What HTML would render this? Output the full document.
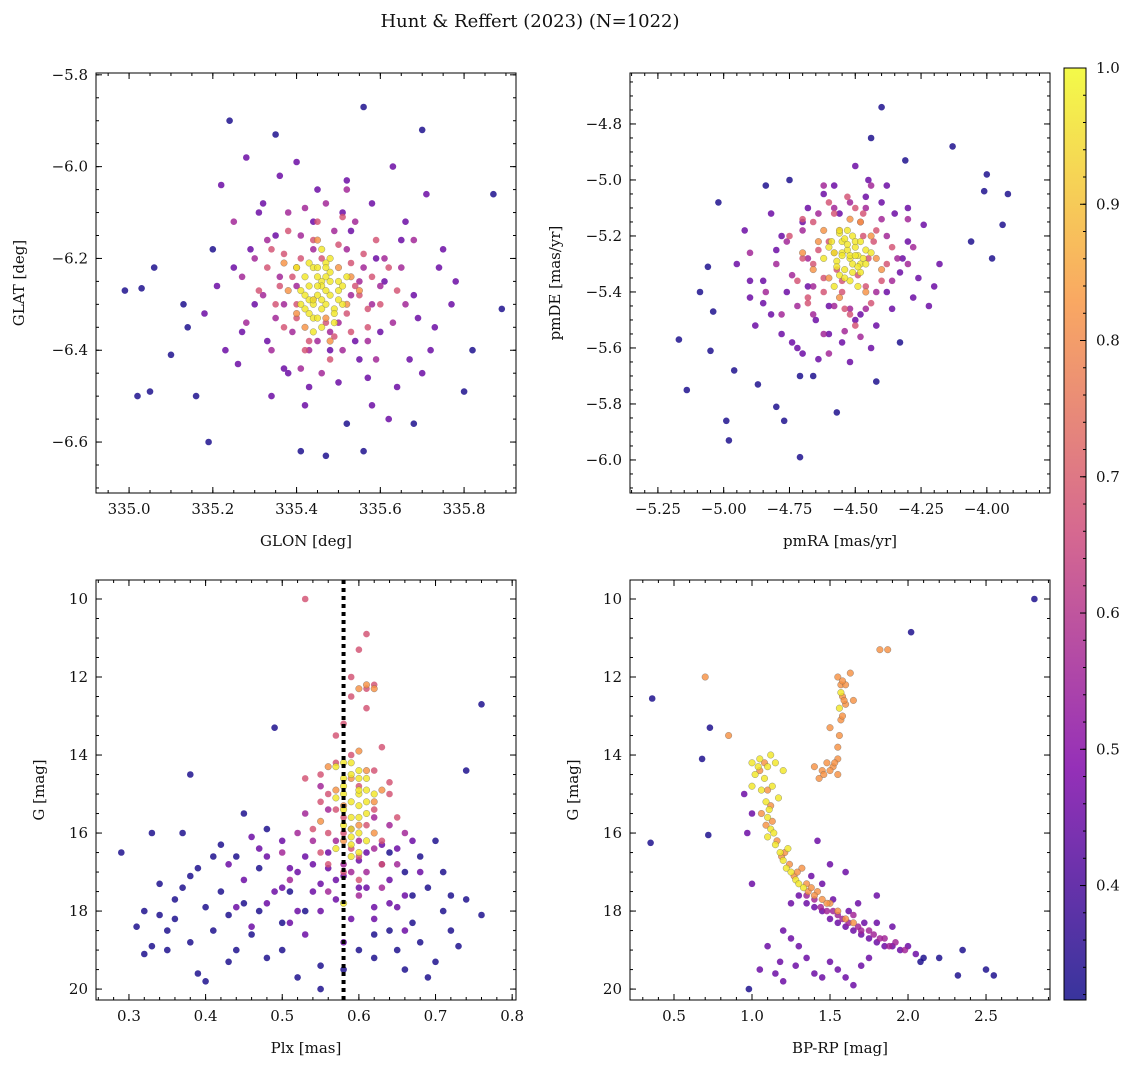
<!DOCTYPE html>
<html><head><meta charset="utf-8"><style>
body{margin:0;background:#fff}
svg{display:block;font-family:"DejaVu Serif","Liberation Serif",serif}
</style></head><body>
<svg id="fig" width="1136" height="1068" viewBox="0 0 1136 1068">
<text x="530" y="27" text-anchor="middle" font-size="18" fill="#111">Hunt &amp; Reffert (2023) (N=1022)</text>
</svg>
<script>
// ---- data: probability levels per group ----
const levels = {dark:0.33, purple:0.45, magenta:0.56, pink:0.68, orange:0.82, yellow:0.97};
// Panel 1: GLON / GLAT
const p1DarkX=[334.99,335.03,335.02,335.05,335.06,335.10,335.16,335.19,335.24,335.35,335.56,335.70,335.87,335.89,335.82,335.80,335.41,335.47,335.56,335.68,335.52,335.13,335.14,335.20];
const p1DarkY=[-6.27,-6.265,-6.50,-6.49,-6.22,-6.41,-6.50,-6.60,-5.90,-5.93,-5.87,-5.92,-6.06,-6.31,-6.40,-6.49,-6.62,-6.63,-6.62,-6.56,-6.56,-6.30,-6.35,-6.18];
const p1PurpleX=[335.22,335.28,335.31,335.36,335.40,335.45,335.52,335.58,335.63,335.66,335.71,335.75,335.78,335.25,335.30,335.33,335.38,335.55,335.60,335.64,335.69,335.72,335.26,335.34,335.42,335.50,335.57,335.62,335.68,335.74,335.18,335.21,335.27,335.35,335.44,335.53,335.59,335.65,335.73,335.77,335.29,335.37,335.48,335.54,335.61,335.67,335.23,335.32,335.43,335.51,335.58,335.70];
const p1PurpleY=[-6.04,-5.98,-6.10,-6.02,-5.99,-6.05,-6.03,-6.08,-6.00,-6.12,-6.06,-6.18,-6.25,-6.22,-6.30,-6.38,-6.45,-6.42,-6.36,-6.48,-6.33,-6.40,-6.43,-6.50,-6.52,-6.47,-6.46,-6.55,-6.28,-6.22,-6.32,-6.26,-6.36,-6.15,-6.12,-6.14,-6.20,-6.16,-6.35,-6.30,-6.18,-6.44,-6.40,-6.38,-6.25,-6.42,-6.40,-6.08,-6.48,-6.10,-6.52,-6.45];
const p1Magenta=[[335.30,-6.20],[335.32,-6.28],[335.35,-6.33],[335.38,-6.10],[335.41,-6.15],[335.43,-6.40],[335.46,-6.45],[335.49,-6.14],[335.52,-6.18],[335.55,-6.25],[335.58,-6.30],[335.61,-6.20],[335.63,-6.34],[335.36,-6.24],[335.39,-6.36],[335.42,-6.09],[335.45,-6.38],[335.51,-6.40],[335.54,-6.12],[335.57,-6.38],[335.60,-6.26],[335.33,-6.16],[335.28,-6.34],[335.65,-6.22],[335.47,-6.08],[335.50,-6.34],[335.40,-6.26],[335.53,-6.28],[335.37,-6.30],[335.56,-6.22],[335.44,-6.18],[335.48,-6.36],[335.27,-6.24],[335.66,-6.30],[335.34,-6.40],[335.59,-6.42],[335.41,-6.44],[335.52,-6.05],[335.25,-6.12],[335.68,-6.16]];
const p1PinkX=[335.34,335.38,335.41,335.44,335.50,335.53,335.56,335.58,335.36,335.40,335.47,335.52,335.55,335.60,335.33,335.37,335.43,335.49,335.57,335.62,335.35,335.39,335.45,335.54,335.59,335.42,335.48,335.51,335.31,335.64,335.46,335.40,335.53,335.37,335.57,335.44];
const p1PinkY=[-6.18,-6.14,-6.20,-6.16,-6.17,-6.21,-6.19,-6.24,-6.26,-6.30,-6.34,-6.32,-6.28,-6.30,-6.22,-6.35,-6.38,-6.37,-6.35,-6.22,-6.30,-6.24,-6.12,-6.26,-6.16,-6.40,-6.42,-6.11,-6.27,-6.27,-6.20,-6.33,-6.36,-6.19,-6.31,-6.29];
const p1Orange=[[335.40,-6.22],[335.50,-6.22],[335.52,-6.30],[335.40,-6.32],[335.45,-6.16],[335.48,-6.38],[335.38,-6.27],[335.55,-6.27],[335.42,-6.35],[335.53,-6.24],[335.37,-6.21],[335.47,-6.33]];
const p1YellowX=[335.42,335.44,335.46,335.48,335.50,335.45,335.47,335.43,335.49,335.41,335.44,335.46,335.48,335.51,335.45,335.47,335.43,335.50,335.46,335.44,335.48,335.42,335.47,335.45,335.49,335.52,335.40,335.46];
const p1YellowY=[-6.24,-6.22,-6.25,-6.23,-6.27,-6.28,-6.30,-6.29,-6.31,-6.27,-6.33,-6.26,-6.20,-6.30,-6.22,-6.24,-6.32,-6.25,-6.35,-6.30,-6.28,-6.31,-6.21,-6.26,-6.34,-6.24,-6.22,-6.29];
const p1YellowExtra=[[335.43,-6.26],[335.45,-6.24],[335.47,-6.27],[335.44,-6.29],[335.46,-6.31],[335.48,-6.25],[335.42,-6.28],[335.50,-6.29],[335.45,-6.33],[335.47,-6.22],[335.43,-6.21],[335.49,-6.32],[335.41,-6.30],[335.51,-6.26],[335.44,-6.36],[335.46,-6.18]];
// Panel 2: pmRA / pmDE
const p2DarkX=[-5.17,-5.14,-5.05,-5.04,-5.02,-4.99,-4.98,-4.96,-4.87,-4.80,-4.77,-4.71,-4.57,-4.40,-4.44,-4.31,-4.13,-4.00,-3.92,-3.94,-3.98,-4.06,-4.01,-5.06,-5.09,-4.33,-4.42,-4.66,-4.71,-4.84,-4.75];
const p2DarkY=[-5.57,-5.75,-5.61,-5.47,-5.08,-5.86,-5.93,-5.68,-5.73,-5.81,-5.86,-5.99,-5.83,-4.74,-4.85,-4.93,-4.88,-4.98,-5.05,-5.16,-5.28,-5.22,-5.04,-5.31,-5.40,-5.58,-5.72,-5.70,-5.70,-5.02,-5.00];
const p2PurpleX=[-4.95,-4.90,-4.85,-4.82,-4.78,-4.72,-4.68,-4.62,-4.58,-4.50,-4.45,-4.40,-4.35,-4.30,-4.26,-4.22,-4.18,-4.92,-4.88,-4.80,-4.76,-4.70,-4.65,-4.60,-4.55,-4.48,-4.42,-4.38,-4.33,-4.28,-4.24,-4.85,-4.78,-4.70,-4.64,-4.56,-4.46,-4.36,-4.30,-4.20,-4.90,-4.74,-4.60,-4.52,-4.44,-4.38,-4.32,-4.82,-4.68,-4.50];
const p2PurpleY=[-5.30,-5.42,-5.36,-5.48,-5.55,-5.60,-5.10,-5.05,-5.02,-4.95,-5.00,-5.08,-5.12,-5.22,-5.35,-5.45,-5.30,-5.18,-5.52,-5.25,-5.40,-5.62,-5.50,-5.55,-5.58,-5.48,-5.52,-5.40,-5.33,-5.42,-5.16,-5.44,-5.20,-5.15,-5.64,-5.12,-5.06,-5.46,-5.10,-5.38,-5.36,-5.58,-5.45,-5.65,-5.60,-5.02,-5.28,-5.12,-5.38,-5.50];
const p2Magenta=[[-4.80,-5.30],[-4.76,-5.22],[-4.72,-5.45],[-4.66,-5.48],[-4.62,-5.55],[-4.58,-5.45],[-4.54,-5.54],[-4.46,-5.46],[-4.42,-5.40],[-4.38,-5.20],[-4.34,-5.28],[-4.40,-5.14],[-4.46,-5.10],[-4.52,-5.08],[-4.58,-5.10],[-4.64,-5.12],[-4.70,-5.18],[-4.74,-5.34],[-4.68,-5.28],[-4.36,-5.36],[-4.30,-5.30],[-4.84,-5.40],[-4.78,-5.48],[-4.48,-5.56],[-4.62,-5.02],[-4.44,-5.02],[-4.30,-5.14],[-4.28,-5.24],[-4.90,-5.26],[-4.60,-5.62],[-4.52,-5.46],[-4.66,-5.38]];
const p2PinkX=[-4.75,-4.70,-4.66,-4.62,-4.58,-4.55,-4.50,-4.46,-4.42,-4.38,-4.72,-4.68,-4.60,-4.54,-4.48,-4.44,-4.36,-4.64,-4.57,-4.52,-4.47,-4.40,-4.70,-4.62,-4.56,-4.50,-4.45,-4.60,-4.53,-4.66,-4.49,-4.58,-4.43,-4.68,-4.55,-4.47];
const p2PinkY=[-5.20,-5.28,-5.15,-5.35,-5.12,-5.40,-5.10,-5.38,-5.18,-5.30,-5.36,-5.42,-5.22,-5.46,-5.15,-5.44,-5.24,-5.25,-5.32,-5.48,-5.20,-5.36,-5.14,-5.40,-5.18,-5.52,-5.28,-5.08,-5.06,-5.30,-5.34,-5.26,-5.22,-5.44,-5.36,-5.12];
const p2Orange=[[-4.64,-5.22],[-4.60,-5.35],[-4.42,-5.28],[-4.44,-5.20],[-4.62,-5.18],[-4.56,-5.42],[-4.48,-5.15],[-4.40,-5.32],[-4.66,-5.32],[-4.52,-5.14],[-4.46,-5.40],[-4.70,-5.26]];
const p2YellowX=[-4.58,-4.55,-4.52,-4.50,-4.48,-4.54,-4.51,-4.56,-4.49,-4.53,-4.46,-4.57,-4.52,-4.50,-4.55,-4.48,-4.60,-4.51,-4.54,-4.47,-4.53,-4.56,-4.49,-4.52];
const p2YellowY=[-5.26,-5.22,-5.28,-5.24,-5.30,-5.32,-5.20,-5.34,-5.27,-5.18,-5.25,-5.29,-5.36,-5.22,-5.26,-5.33,-5.24,-5.30,-5.21,-5.28,-5.25,-5.19,-5.31,-5.27];
const p2YellowExtra=[[-4.55,-5.27],[-4.53,-5.23],[-4.50,-5.27],[-4.57,-5.31],[-4.48,-5.22],[-4.54,-5.35],[-4.51,-5.33],[-4.59,-5.22],[-4.46,-5.30],[-4.56,-5.18],[-4.49,-5.38],[-4.62,-5.28],[-4.44,-5.26],[-4.58,-5.38]];
// Panel 3: Plx / G
const p3DarkX=[0.29,0.32,0.33,0.32,0.33,0.37,0.38,0.40,0.39,0.36,0.42,0.45,0.49,0.76,0.74,0.76,0.73,0.72,0.70,0.69,0.66,0.52,0.35,0.34,0.55,0.41,0.42,0.47,0.50,0.64,0.68,0.71,0.62,0.44,0.37];
const p3DarkY=[16.5,18.0,18.9,19.1,16.0,16.0,14.5,19.8,19.6,18.2,16.3,15.5,13.3,12.7,14.4,18.1,18.9,17.6,16.2,19.7,19.5,19.7,18.5,17.3,20.0,18.5,17.5,18.0,19.0,18.5,18.8,18.0,19.2,19.0,17.4];
const p3DarkExtra=[[0.31,18.4],[0.35,19.0],[0.38,18.8],[0.40,17.9],[0.43,18.1],[0.45,17.8],[0.46,18.6],[0.48,19.2],[0.51,17.5],[0.53,18.0],[0.36,17.7],[0.39,16.9],[0.41,16.6],[0.44,16.6],[0.47,16.9],[0.62,18.6],[0.65,19.0],[0.67,18.3],[0.69,17.4],[0.71,17.0],[0.72,18.5],[0.74,17.7],[0.70,19.3],[0.67,17.6],[0.43,19.3],[0.55,19.4],[0.60,19.0],[0.58,19.5],[0.50,18.3],[0.64,16.5],[0.66,17.0],[0.38,17.1],[0.34,18.1],[0.48,15.9],[0.68,16.6]];
const p3PurpleX=[0.43,0.45,0.47,0.48,0.50,0.51,0.52,0.53,0.54,0.55,0.56,0.57,0.59,0.60,0.61,0.62,0.63,0.64,0.65,0.66,0.67,0.68,0.44,0.46,0.49,0.51,0.53,0.55,0.58,0.60,0.62,0.64,0.66,0.48,0.50,0.52,0.56,0.58,0.61,0.63,0.65,0.46,0.54,0.57,0.59];
const p3PurpleY=[16.8,17.2,16.4,17.8,16.2,18.3,17.0,16.6,17.5,18.0,16.9,17.7,18.2,17.4,16.5,17.9,16.8,17.2,16.4,17.6,16.2,17.0,17.9,18.4,17.5,16.9,18.6,17.3,18.8,16.7,18.2,17.8,18.5,16.6,17.4,18.0,16.5,17.1,17.4,16.3,17.9,16.1,16.8,17.2,15.9];
const p3Magenta=[[0.50,16.5],[0.52,16.0],[0.54,16.2],[0.56,17.5],[0.58,16.8],[0.60,17.6],[0.62,16.4],[0.64,15.8],[0.66,16.0],[0.53,15.5],[0.55,14.8],[0.57,16.2],[0.61,17.0],[0.63,17.4],[0.65,16.8],[0.51,17.2],[0.59,17.0],[0.62,15.6],[0.56,15.4],[0.60,16.2]];
const p3PinkX=[0.53,0.55,0.56,0.57,0.58,0.59,0.60,0.61,0.62,0.63,0.64,0.55,0.57,0.59,0.61,0.63,0.54,0.56,0.58,0.60,0.62,0.65,0.57,0.59,0.61,0.60,0.62,0.61,0.58,0.56,0.63,0.60,0.59,0.64,0.55,0.58,0.53];
const p3PinkY=[14.6,15.2,16.0,14.2,15.6,16.4,14.8,15.8,15.4,16.2,15.0,16.5,13.5,14.0,12.3,13.8,15.9,16.8,17.0,16.6,14.4,15.6,15.4,12.0,12.8,11.3,12.2,10.9,13.2,15.0,16.8,17.2,12.5,14.7,14.5,16.0,10.0];
const p3Orange=[[0.56,14.3],[0.57,14.9],[0.58,15.3],[0.59,14.6],[0.60,15.8],[0.61,14.4],[0.62,15.2],[0.63,14.9],[0.58,16.2],[0.60,13.9],[0.62,16.0],[0.55,15.7],[0.61,12.2],[0.60,12.3],[0.62,12.3]];
const p3YellowX=[0.57,0.58,0.59,0.60,0.61,0.58,0.59,0.60,0.57,0.59,0.61,0.58,0.60,0.59,0.57,0.61,0.60,0.58,0.59,0.60,0.62,0.58];
const p3YellowY=[14.3,14.8,15.2,14.6,15.5,15.8,16.1,15.0,16.4,14.2,14.9,15.4,16.0,15.6,15.1,16.2,14.4,14.6,16.6,15.3,15.0,17.8];
const p3YellowExtra=[[0.58,14.2],[0.59,14.5],[0.60,14.9],[0.61,15.2],[0.59,15.9],[0.60,15.6],[0.58,15.0],[0.61,14.6],[0.59,16.3],[0.60,16.5]];
const plxMedian = 0.58;
// Panel 4: BP-RP / G
const p4Dark=[[2.81,10.0],[2.02,10.85],[0.36,12.55],[0.35,16.25],[0.68,14.1],[0.72,16.05],[0.73,13.3],[0.98,20.0],[2.5,19.5],[2.55,19.65],[2.35,19.0],[2.32,19.65],[2.2,19.2],[2.1,19.2],[2.08,19.3]];
const p4Purple=[[1.3,17.6],[1.35,17.8],[1.4,17.9],[1.45,18.0],[1.5,18.2],[1.55,18.3],[1.6,18.4],[1.65,18.5],[1.7,18.6],[1.75,18.7],[1.8,18.8],[1.85,18.9],[1.9,18.9],[1.95,19.0],[1.72,18.3],[1.62,18.0],[1.52,17.7],[1.45,17.3],[1.38,17.1],[1.68,17.8],[1.8,18.3],[1.25,17.8],[1.2,18.5],[1.25,18.7],[1.3,18.9],[1.35,19.2],[1.28,19.4],[1.4,19.6],[1.45,19.7],[1.55,19.5],[1.6,19.7],[1.5,19.3],[1.7,19.4],[1.75,19.2],[1.65,19.9],[1.18,19.3],[1.15,19.6],[1.2,19.8],[1.05,19.5],[1.1,18.9],[1.0,17.3],[0.95,15.0],[1.0,15.5],[0.97,16.0],[1.42,16.2],[1.5,16.8],[1.6,17.0],[1.8,17.6],[1.9,18.4],[2.0,18.9],[2.05,19.1]];
const p4Magenta=[[1.55,18.1],[1.62,18.3],[1.70,18.5],[1.78,18.6],[1.85,18.7],[1.92,18.8],[1.98,19.0],[1.52,18.0],[1.58,18.2],[1.68,18.4],[1.75,18.5],[1.82,18.7],[1.40,17.7],[1.44,17.9],[1.48,18.0],[1.88,18.9],[1.35,17.6],[1.65,18.1]];
const p4Orange=[[1.82,11.3],[1.87,11.3],[0.70,12.0],[0.85,13.5],[1.55,12.0],[1.57,12.2],[1.58,12.5],[1.6,12.7],[1.57,13.1],[1.56,13.5],[1.55,13.8],[1.55,14.1],[1.52,14.3],[1.48,14.2],[1.45,14.4],[1.6,12.2],[1.65,12.6],[1.63,11.9],[1.5,13.3],[1.55,14.5],[1.4,14.3],[1.43,14.6],[1.42,17.5],[1.5,17.8],[1.55,18.0],[1.6,18.2],[1.65,18.3],[1.32,16.9],[1.36,17.5]];
const p4OrangeExtra=[[1.05,14.4],[1.08,14.2],[1.10,14.9],[1.12,15.3],[1.13,15.7],[1.16,16.2],[1.19,16.6],[1.21,16.5],[1.24,16.8],[1.27,17.1],[1.29,17.0],[1.35,17.3],[1.38,17.4],[1.40,17.6],[1.45,17.7],[1.48,17.8],[1.06,15.5],[1.09,15.8],[1.58,12.1],[1.59,12.6],[1.58,13.0],[1.53,14.2],[1.50,14.4],[1.46,14.5]];
const p4Yellow=[[1.0,14.2],[1.02,14.5],[1.05,14.1],[1.08,14.6],[1.1,14.3],[1.06,14.9],[1.09,15.2],[1.1,15.6],[1.12,15.9],[1.11,15.4],[1.14,16.0],[1.15,16.3],[1.18,16.5],[1.2,16.7],[1.22,16.9],[1.25,17.0],[1.28,17.2],[1.3,17.3],[1.33,17.4],[1.13,14.8],[1.04,14.3],[1.15,14.2],[1.2,14.4],[1.17,15.1],[1.1,16.1],[1.23,16.4],[1.12,14.0],[1.0,14.8],[1.57,12.4],[1.56,12.8]];
// colorbar
const cbTicks=[0.4,0.5,0.6,0.7,0.8,0.9,1.0];
const cbMin=0.316, cbMax=1.0;

const NS='http://www.w3.org/2000/svg';
const fig=document.getElementById('fig');
function el(tag,attrs,parent){const e=document.createElementNS(NS,tag);for(const k in attrs)e.setAttribute(k,attrs[k]);(parent||fig).appendChild(e);return e;}
const stops=[[13,8,135],[126,3,168],[204,71,120],[248,149,64],[240,249,33]];
function plasma(v){let t=(v-cbMin)/(cbMax-cbMin);t=Math.max(0,Math.min(1,t))*4;const i=Math.min(3,Math.floor(t)),f=t-i;const a=stops[i],b=stops[i+1];return `rgb(${a.map((c,k)=>Math.round(c+(b[k]-c)*f)).join(',')})`;}
function fmt(v,d){return (v<0?'\u2212':'')+Math.abs(v).toFixed(d);}

function panel(c){
  const g=el('g',{});
  
  
  const sx=v=>c.L+(v-c.x0)/(c.x1-c.x0)*(c.R-c.L);
  const sy=v=>c.T+(v-c.y0)/(c.y1-c.y0)*(c.B-c.T);
  const clip=el('clipPath',{id:'clip-'+c.name},g);el('rect',{x:c.L,y:c.T,width:c.R-c.L,height:c.B-c.T},clip);
  const pts=el('g',{'clip-path':`url(#clip-${c.name})`},g);
  
  
  c.groups.forEach(gr=>{
    const col=plasma(gr.p);
    gr.pts.forEach(([x,y])=>{
      const d=el('circle',{cx:sx(x).toFixed(1),cy:sy(y).toFixed(1),r:3.3,fill:col,'fill-opacity':0.82,stroke:gr.p>0.8?'rgba(90,90,90,0.6)':'none','stroke-width':0.5},pts);
      
      
    });
  });
  if(c.extra)c.extra(g,sx,sy);
  const fr=el('rect',{x:c.L,y:c.T,width:c.R-c.L,height:c.B-c.T,fill:'none',stroke:'#000','stroke-width':1},g);
  
  
  const eps=1e-9;
  function ticks(lo,hi,step){const out=[];const a=Math.min(lo,hi),b=Math.max(lo,hi);for(let v=Math.ceil(a/step-eps)*step;v<=b+eps;v+=step)out.push(v);return out;}
  ticks(c.x0,c.x1,c.xmin).forEach(v=>{const x=sx(v);el('line',{x1:x,x2:x,y1:c.B,y2:c.B-3,stroke:'#000'},g);el('line',{x1:x,x2:x,y1:c.T,y2:c.T+3,stroke:'#000'},g);});
  ticks(c.y0,c.y1,c.ymin).forEach(v=>{const y=sy(v);el('line',{x1:c.L,x2:c.L+3,y1:y,y2:y,stroke:'#000'},g);el('line',{x1:c.R,x2:c.R-3,y1:y,y2:y,stroke:'#000'},g);});
  ticks(c.x0,c.x1,c.xmaj).forEach(v=>{const x=sx(v);el('line',{x1:x,x2:x,y1:c.B,y2:c.B-6,stroke:'#000'},g);el('line',{x1:x,x2:x,y1:c.T,y2:c.T+6,stroke:'#000'},g);
    const t=el('text',{x:x,y:c.B+21,'text-anchor':'middle','font-size':15,fill:'#111'},g);t.textContent=fmt(v,c.xd);
    
    });
  ticks(c.y0,c.y1,c.ymaj).forEach(v=>{const y=sy(v);el('line',{x1:c.L,x2:c.L+6,y1:y,y2:y,stroke:'#000'},g);el('line',{x1:c.R,x2:c.R-6,y1:y,y2:y,stroke:'#000'},g);
    const t=el('text',{x:c.L-8,y:y+5,'text-anchor':'end','font-size':15,fill:'#111'},g);t.textContent=fmt(v,c.yd);
    
    });
  const xl=el('text',{x:(c.L+c.R)/2,y:c.B+53,'text-anchor':'middle','font-size':15,fill:'#111'},g);xl.textContent=c.xlabel;
  
  
  const yl=el('text',{x:0,y:0,'text-anchor':'middle','font-size':15,fill:'#111',transform:`translate(${c.ylx},${(c.T+c.B)/2}) rotate(-90)`},g);yl.textContent=c.ylabel;
  
  
}
const zip=(a,b)=>a.slice(0,Math.min(a.length,b.length)).map((v,i)=>[v,b[i]]);

panel({name:'panel-position',L:96,R:516,T:73,B:493,x0:334.921,x1:335.924,y0:-5.796,y1:-6.711,xmaj:0.2,xmin:0.05,ymaj:0.2,ymin:0.05,xd:1,yd:1,xlabel:'GLON [deg]',ylabel:'GLAT [deg]',ylx:24,
 groups:[{p:levels.dark,pts:zip(p1DarkX,p1DarkY)},{p:levels.purple,pts:zip(p1PurpleX,p1PurpleY)},{p:levels.magenta,pts:p1Magenta},{p:levels.pink,pts:zip(p1PinkX,p1PinkY)},{p:levels.orange,pts:p1Orange},{p:levels.yellow,pts:zip(p1YellowX,p1YellowY)},{p:levels.yellow,pts:p1YellowExtra}]});
panel({name:'panel-proper-motion',L:630,R:1050,T:73,B:493,x0:-5.356,x1:-3.760,y0:-4.618,y1:-6.118,xmaj:0.25,xmin:0.05,ymaj:0.2,ymin:0.05,xd:2,yd:1,xlabel:'pmRA [mas/yr]',ylabel:'pmDE [mas/yr]',ylx:560,
 groups:[{p:levels.dark,pts:zip(p2DarkX,p2DarkY)},{p:levels.purple,pts:zip(p2PurpleX,p2PurpleY)},{p:levels.magenta,pts:p2Magenta},{p:levels.pink,pts:zip(p2PinkX,p2PinkY)},{p:levels.orange,pts:p2Orange},{p:levels.yellow,pts:zip(p2YellowX,p2YellowY)},{p:levels.yellow,pts:p2YellowExtra}]});
panel({name:'panel-parallax',L:96,R:516,T:580,B:1000,x0:0.257,x1:0.805,y0:9.513,y1:20.28,xmaj:0.1,xmin:0.02,ymaj:2,ymin:0.5,xd:1,yd:0,xlabel:'Plx [mas]',ylabel:'G [mag]',ylx:44,
 groups:[{p:levels.dark,pts:zip(p3DarkX,p3DarkY)},{p:levels.dark,pts:p3DarkExtra},{p:levels.purple,pts:zip(p3PurpleX,p3PurpleY)},{p:levels.magenta,pts:p3Magenta},{p:levels.pink,pts:zip(p3PinkX,p3PinkY)},{p:levels.orange,pts:p3Orange},{p:levels.yellow,pts:zip(p3YellowX,p3YellowY)},{p:levels.yellow,pts:p3YellowExtra}],
 extra:(g,sx,sy)=>{const l=el('line',{x1:sx(plxMedian),x2:sx(plxMedian),y1:580,y2:1000,stroke:'#000','stroke-width':4,'stroke-dasharray':'4,4'},g);
   
   }});
panel({name:'panel-cmd',L:630,R:1050,T:580,B:1000,x0:0.218,x1:2.91,y0:9.513,y1:20.28,xmaj:0.5,xmin:0.1,ymaj:2,ymin:0.5,xd:1,yd:0,xlabel:'BP-RP [mag]',ylabel:'G [mag]',ylx:578,
 groups:[{p:levels.dark,pts:p4Dark},{p:levels.purple,pts:p4Purple},{p:levels.magenta,pts:p4Magenta},{p:levels.orange,pts:p4Orange},{p:levels.orange,pts:p4OrangeExtra},{p:levels.yellow,pts:p4Yellow}]});

(function(){
  const L=1064,R=1086,T=68,B=1000;
  const cb=el('g',{});
  
  
  const defs=el('defs',{},cb);const lg=el('linearGradient',{id:'cbg',x1:0,y1:1,x2:0,y2:0},defs);
  stops.forEach((s,i)=>el('stop',{offset:i/4,'stop-color':`rgb(${s.join(',')})`,'stop-opacity':0.82},lg));
  el('rect',{x:L,y:T,width:R-L,height:B-T,fill:'url(#cbg)',stroke:'#000'},cb);
  const sy=v=>B-(v-cbMin)/(cbMax-cbMin)*(B-T);
  for(let v=0.32;v<=1.0001;v+=0.02){el('line',{x1:R,x2:R-3,y1:sy(v),y2:sy(v),stroke:'#000'},cb);}
  cbTicks.forEach(v=>{const y=sy(v);el('line',{x1:R,x2:R-6,y1:y,y2:y,stroke:'#000'},cb);
    const t=el('text',{x:R+10,y:y+5,'font-size':15,fill:'#111'},cb);t.textContent=v.toFixed(1);
    
    });
})();
</script>
</body></html>
